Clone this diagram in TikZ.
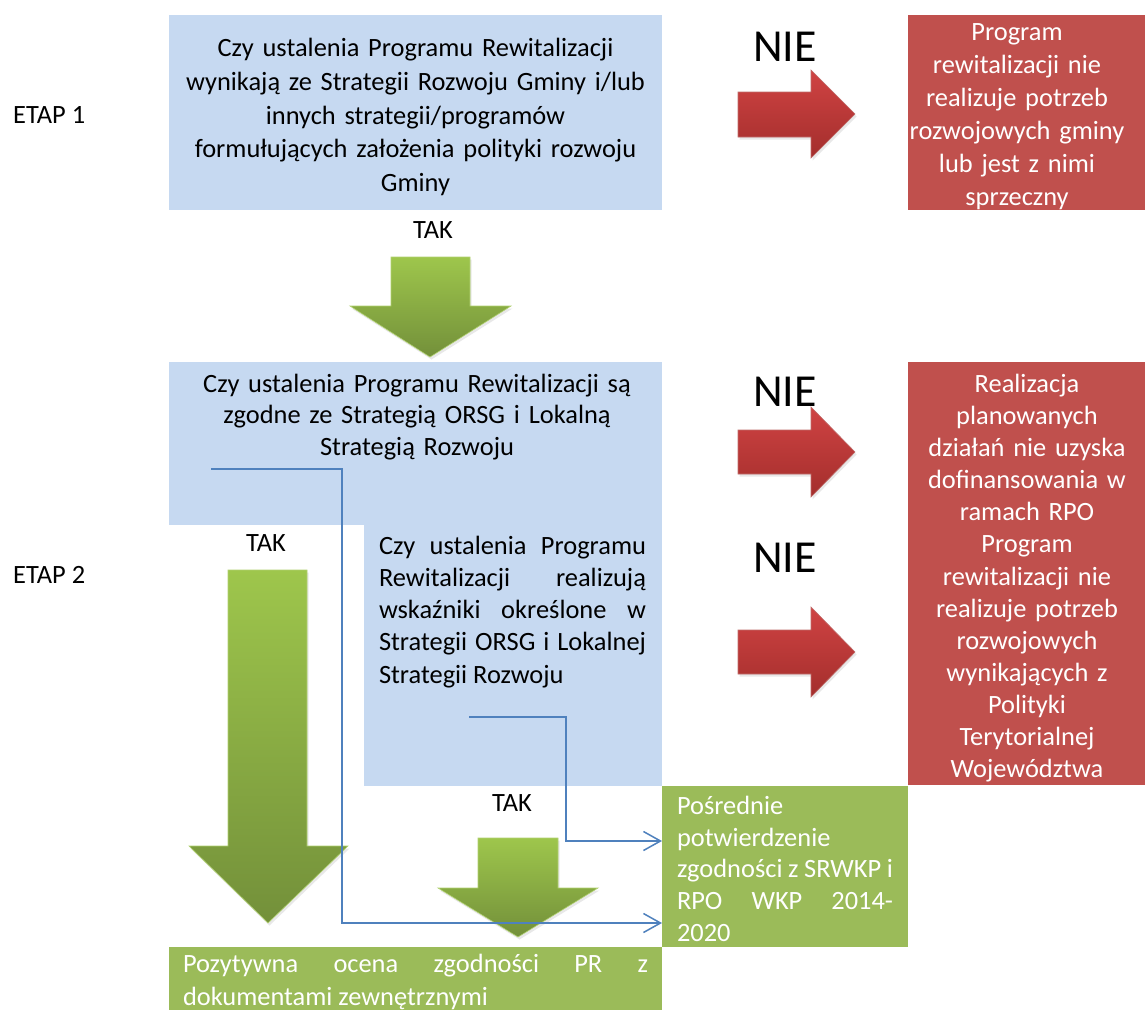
\documentclass[tikz,border=0pt]{standalone}
\usepackage{fontspec}
\setmainfont{Carlito}
\usetikzlibrary{arrows.meta,shadows}
\definecolor{bluebox}{HTML}{C6D9F1}
\definecolor{redbox}{HTML}{C0504D}
\definecolor{greenbox}{HTML}{9BBB59}
\definecolor{connc}{HTML}{4F81BD}
\definecolor{redtop}{HTML}{D04343}
\definecolor{redbot}{HTML}{A32E2C}
\definecolor{greentop}{HTML}{9EC64C}
\definecolor{greenbot}{HTML}{73903A}
\begin{document}
\begin{tikzpicture}[x=1bp,y=-1bp,
  panel/.style={draw=none, inner sep=0pt, outer sep=0pt, anchor=north west},
  txt/.style={inner sep=0pt, outer sep=0pt, font=\fontsize{26.5}{33}\selectfont},
  wtxt/.style={txt, text=white},
  lbl/.style={inner sep=0pt, font=\fontsize{26.5}{33}\selectfont},
  nie/.style={inner sep=0pt, font=\fontsize{46}{52}\selectfont},
  redarrow/.style={top color=redtop, bottom color=redbot, draw=redbot!70!white, line width=0.6bp,
    drop shadow={opacity=0.18, shadow xshift=1.5bp, shadow yshift=-2.5bp}},
  greenarrow/.style={top color=greentop, bottom color=greenbot, draw=greentop!80!white, line width=0.6bp,
    drop shadow={opacity=0.18, shadow xshift=1.5bp, shadow yshift=-2.5bp}},
  conn/.style={draw=connc, line width=1.5bp, -{Straight Barb[length=17bp,width=19bp,line width=1.5bp]}},
]
\path[use as bounding box, fill=white] (0,0) rectangle (1145,1010);

% panels
\node[panel, fill=bluebox, minimum width=493bp, minimum height=195bp] (q1) at (169,15) {};
\node[panel, fill=bluebox, minimum width=493bp, minimum height=163bp] (q2) at (169,362) {};
\node[panel, fill=bluebox, minimum width=298bp, minimum height=264bp] (q3) at (364,522) {};
\node[panel, fill=redbox, minimum width=237bp, minimum height=195bp] (r1) at (908,15) {};
\node[panel, fill=redbox, minimum width=237bp, minimum height=423bp] (r2) at (908,362) {};
\node[panel, fill=greenbox, minimum width=246bp, minimum height=161bp] (g1) at (662,786) {};
\node[panel, fill=greenbox, minimum width=493bp, minimum height=63bp] (g2) at (169,947) {};

% texts in panels
\node[txt, font=\fontsize{26.5}{34}\selectfont, text width=493bp, align=center] (q1t) at (415.5,117)
  {Czy ustalenia Programu Rewitalizacji\\wynikają ze Strategii Rozwoju Gminy i/lub\\innych strategii/programów\\formułujących założenia polityki rozwoju\\Gminy};
\node[txt, font=\fontsize{26.5}{31.5}\selectfont, text width=493bp, align=center, anchor=north] (q2t) at (417,374)
  {Czy ustalenia Programu Rewitalizacji są\\zgodne ze Strategią ORSG i Lokalną\\Strategią Rozwoju};
\node[txt, font=\fontsize{26.5}{32.3}\selectfont, text width=267bp, align=justify, anchor=north west] (q3t) at (379,536)
  {Czy ustalenia Programu\linebreak Rewitalizacji realizują\linebreak wskaźniki określone w\linebreak Strategii ORSG i Lokalnej\linebreak Strategii Rozwoju};
\node[wtxt, text width=237bp, align=center, anchor=north] (r1t) at (1017,24)
  {Program\\rewitalizacji nie\\realizuje potrzeb\\rozwojowych gminy\\lub jest z nimi\\sprzeczny};
\node[wtxt, font=\fontsize{26.5}{32.25}\selectfont, text width=237bp, align=center, anchor=north] (r2t) at (1027,374)
  {Realizacja\\planowanych\\działań nie uzyska\\dofinansowania w\\ramach RPO\\Program\\rewitalizacji nie\\realizuje potrzeb\\rozwojowych\\wynikających z\\Polityki\\Terytorialnej\\Województwa};
\node[wtxt, font=\fontsize{26.5}{31.8}\selectfont, text width=216bp, align=justify, anchor=north west] (g1t) at (677,796)
  {Pośrednie\\potwierdzenie\\zgodności z SRWKP i\linebreak RPO WKP 2014-\linebreak 2020};
\node[wtxt, text width=465bp, align=justify, anchor=north west] (g2t) at (183,954)
  {Pozytywna ocena zgodności PR z\linebreak dokumentami zewnętrznymi};

% labels
\node[lbl, anchor=west] (e1) at (13,115) {ETAP 1};
\node[lbl, anchor=west] (e2) at (13,575) {ETAP 2};
\node[lbl] (t1) at (433,230) {TAK};
\node[lbl] (t2) at (266,543) {TAK};
\node[lbl] (t3) at (512,803) {TAK};
\node[nie] (n1) at (785,47) {NIE};
\node[nie] (n2) at (785,392) {NIE};
\node[nie] (n3) at (785,558) {NIE};

% red block arrows
\path[redarrow] (738,92) -- (811,92) -- (811,70) -- (855,114) -- (811,158) -- (811,137) -- (738,137) -- cycle;
\path[redarrow] (738,430) -- (811,430) -- (811,407) -- (855,452) -- (811,497) -- (811,474) -- (738,474) -- cycle;
\path[redarrow] (738,630) -- (811,630) -- (811,607) -- (855,652) -- (811,697) -- (811,674) -- (738,674) -- cycle;

% green block arrows
\path[greenarrow] (391,257) -- (470,257) -- (470,306) -- (511,306) -- (430,357) -- (350,306) -- (391,306) -- cycle;
\path[greenarrow] (228,570) -- (307,570) -- (307,846) -- (348,846) -- (268,923) -- (189,846) -- (228,846) -- cycle;
\path[greenarrow] (478,838) -- (558,838) -- (558,888) -- (598,888) -- (518,937) -- (438,888) -- (478,888) -- cycle;

% thin connectors
\coordinate (s1) at (211,469);
\coordinate (k1) at (342,923);
\coordinate (s2) at (469,717);
\coordinate (k2) at (566,841);
\draw[conn] (s1) -| (k1) -- (k1 -| g1.west);
\draw[conn] (s2) -| (k2) -- (k2 -| g1.west);
\end{tikzpicture}
\end{document}
